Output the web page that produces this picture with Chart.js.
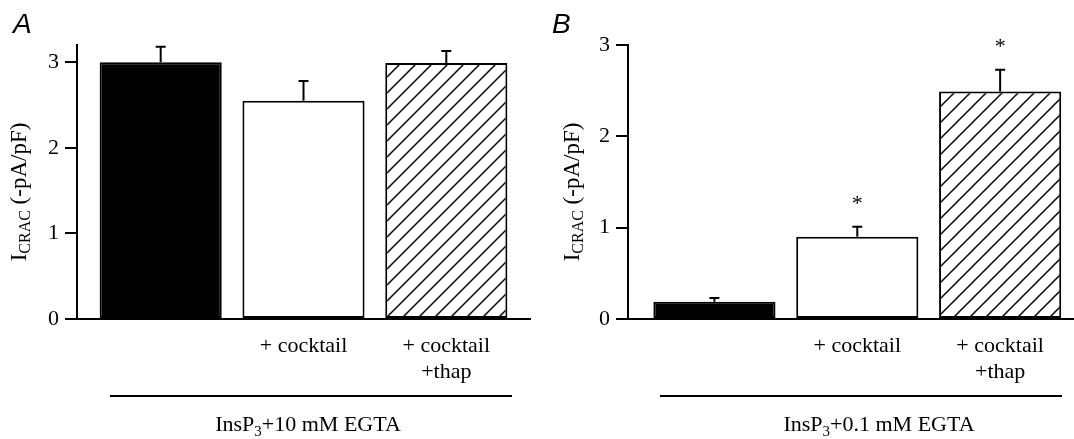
<!DOCTYPE html>
<html>
<head>
<meta charset="utf-8">
<script src="https://cdn.jsdelivr.net/npm/chart.js@4"></script>
<style>
  html, body { margin: 0; padding: 0; background: #fff; }
  #wrap { position: relative; width: 1074px; height: 439px; overflow: hidden; }
  canvas { position: absolute; top: 0; }
  #chartA { left: 0; }
  #chartB { left: 551px; }
</style>
</head>
<body>
<div id="wrap">
  <canvas id="chartA" width="545" height="439"></canvas>
  <canvas id="chartB" width="523" height="439"></canvas>
</div>
<script>
// bar positions and their labels (shared by both panels)
const categories = [1, 2, 3];
const tickLabels = ['', '+ cocktail', ['+ cocktail', '+thap']];
const yTicks = [0, 1, 2, 3];

// A: InsP3 + 10 mM EGTA
const meanA = [3.00, 2.55, 2.99];
const semA = [0.18, 0.23, 0.14];
const starsA = ['', '', ''];

// B: InsP3 + 0.1 mM EGTA
const meanB = [0.19, 0.90, 2.49];
const semB = [0.04, 0.11, 0.24];
const starsB = ['', '*', '*'];

const SERIF = '"Liberation Serif", "Times New Roman", serif';
const SANS = '"Liberation Sans", Arial, sans-serif';

function hatchPattern(ctx) {
    const c = document.createElement('canvas');
    c.width = 16;
    c.height = 16;
    const g = c.getContext('2d');
    g.fillStyle = '#fff';
    g.fillRect(0, 0, 16, 16);
    g.strokeStyle = '#000';
    g.lineWidth = 1.5;
    g.beginPath();
    g.moveTo(-2, 18); g.lineTo(18, -2);
    g.moveTo(-2, 2); g.lineTo(2, -2);
    g.moveTo(14, 18); g.lineTo(18, 14);
    g.stroke();
    return ctx.createPattern(c, 'repeat');
}

// text made of runs: [text, size, baseline shift]
function drawRuns(ctx, runs, x, y) {
    let w = 0;
    runs.forEach(r => {
        ctx.font = r[1] + 'px ' + SERIF;
        w += ctx.measureText(r[0]).width;
    });
    let cx = x - w / 2;
    ctx.textAlign = 'left';
    ctx.textBaseline = 'alphabetic';
    runs.forEach(r => {
        ctx.font = r[1] + 'px ' + SERIF;
        ctx.fillText(r[0], cx, y + r[2]);
        cx += ctx.measureText(r[0]).width;
    });
}

const panelDecor = {
    id: 'panelDecor',
    afterDraw(chart, args, opts) {
        const ctx = chart.ctx;
        const yScale = chart.scales.y;
        const meta = chart.getDatasetMeta(0);
        const values = chart.data.datasets[0].data;
        ctx.save();
        ctx.strokeStyle = '#000';
        ctx.fillStyle = '#000';
        ctx.lineWidth = 2;

        // SEM bars (upper half only) and significance marks
        meta.data.forEach((bar, i) => {
            const top = yScale.getPixelForValue(values[i].y + opts.errors[i]);
            ctx.beginPath();
            ctx.moveTo(bar.x, bar.y);
            ctx.lineTo(bar.x, top);
            ctx.moveTo(bar.x - 5, top);
            ctx.lineTo(bar.x + 5, top);
            ctx.stroke();
            if (opts.stars[i]) {
                ctx.font = '22px ' + SERIF;
                ctx.textAlign = 'center';
                ctx.textBaseline = 'alphabetic';
                ctx.fillText(opts.stars[i], bar.x, top - 17);
            }
        });

        // panel letter
        ctx.font = 'italic 28px ' + SANS;
        ctx.textAlign = 'left';
        ctx.textBaseline = 'alphabetic';
        ctx.fillText(opts.letter, opts.letterX, 33);

        // y axis title
        ctx.save();
        ctx.translate(opts.titleX, 192);
        ctx.rotate(-Math.PI / 2);
        drawRuns(ctx, [['I', 23, 0], ['CRAC', 16, 4], [' (-pA/pF)', 23, 0]], 0, 0);
        ctx.restore();

        // condition bracket
        ctx.beginPath();
        ctx.moveTo(opts.lineX1, 396);
        ctx.lineTo(opts.lineX2, 396);
        ctx.stroke();
        drawRuns(ctx, [['InsP', 22, 0], ['3', 15, 5], [opts.group, 22, 0]], opts.groupX, 431);
        ctx.restore();
    }
};

function makeChart(id, means, errs, stars, yMax, xMin, xMax, padRight, deco) {
    const ctx = document.getElementById(id).getContext('2d');
    const tickFont = { family: SERIF, size: 22 };
    return new Chart(ctx, {
        type: 'bar',
        data: {
            datasets: [{
                data: categories.map((c, i) => ({ x: c, y: means[i] })),
                backgroundColor: ['#000', '#fff', hatchPattern(ctx)],
                borderColor: '#000',
                borderWidth: 2,
                borderSkipped: false,
                barPercentage: 0.855,
                categoryPercentage: 1
            }]
        },
        options: {
            responsive: false,
            animation: false,
            devicePixelRatio: 1,
            layout: { padding: { top: 45, right: padRight, left: 0, bottom: 0 } },
            plugins: {
                legend: { display: false },
                tooltip: { enabled: false },
                panelDecor: Object.assign({ errors: errs, stars: stars }, deco)
            },
            scales: {
                x: {
                    type: 'linear',
                    min: xMin,
                    max: xMax,
                    offset: false,
                    afterBuildTicks: s => { s.ticks = categories.map(v => ({ value: v })); },
                    afterFit: s => { s.height = 120; },
                    grid: { display: true, drawOnChartArea: false, drawTicks: false, offset: false },
                    border: { display: true, color: '#000', width: 2 },
                    ticks: {
                        callback: (v, i) => tickLabels[i],
                        font: Object.assign({ lineHeight: 1.15 }, tickFont),
                        color: '#000',
                        padding: 15,
                        maxRotation: 0,
                        autoSkip: false
                    }
                },
                y: {
                    min: 0,
                    max: yMax,
                    afterBuildTicks: s => { s.ticks = yTicks.map(v => ({ value: v })); },
                    afterFit: s => { s.width = 77; },
                    grid: {
                        drawOnChartArea: false,
                        drawTicks: true,
                        tickLength: 12,
                        tickWidth: 2,
                        tickColor: '#000',
                        color: '#000',
                        lineWidth: 2
                    },
                    border: { display: true, color: '#000', width: 2 },
                    ticks: { font: tickFont, color: '#000', padding: 6 }
                }
            }
        },
        plugins: [panelDecor]
    });
}

makeChart('chartA', meanA, semA, starsA, 3.2, 0.414, 3.586, 15, {
    letter: 'A', letterX: 13, titleX: 26,
    lineX1: 110, lineX2: 512, group: '+10 mM EGTA', groupX: 308
});
makeChart('chartB', meanB, semB, starsB, 3, 0.395, 3.517, 0, {
    letter: 'B', letterX: 1, titleX: 28,
    lineX1: 109, lineX2: 511, group: '+0.1 mM EGTA', groupX: 328
});
</script>
</body>
</html>
